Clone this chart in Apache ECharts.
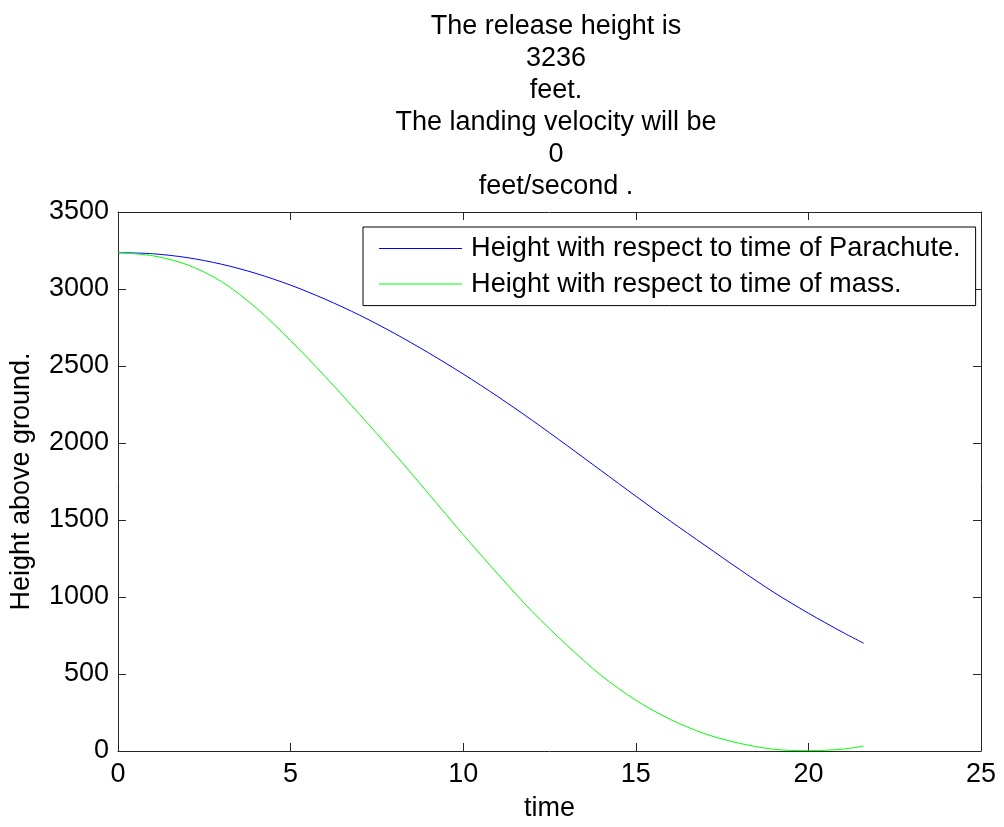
<!DOCTYPE html>
<html>
<head>
    <meta charset="utf-8" />
    <title>Parachute drop</title>
    <script src="https://cdn.jsdelivr.net/npm/echarts@6/dist/echarts.min.js"></script>
    <style>
        body { margin: 0; background: #fff; }
    </style>
</head>
<body>
    <div id="main" style="width: 1004px;height:827px;"></div>
    <script type="text/javascript">
        // time samples (seconds) and heights
        var times = [0, 1, 2, 3, 4, 5, 6, 7, 8, 9, 10, 11, 12, 13, 14, 15, 16, 17, 18, 19, 20, 21, 21.6];
        var parachute = [3236, 3229, 3204, 3161, 3101, 3025, 2934, 2830, 2713, 2585, 2448, 2302, 2147, 1985, 1820, 1655, 1493, 1336, 1180, 1030, 895, 770, 700];
        var mass = [3236, 3216, 3158, 3048, 2878, 2665, 2432, 2186, 1933, 1670, 1405, 1150, 905, 688, 490, 330, 205, 112, 50, 11, 2, 12, 32];

        var titleLines = ['The release height is', '3236', 'feet.', 'The landing velocity will be', '0', 'feet/second .'];
        var seriesNames = ['Height with respect to time of Parachute.', 'Height with respect to time of mass.'];

        var font = 'Liberation Sans, Arial, sans-serif';
        var axisColor = '#262626';

        function pairs(xs, ys) {
            return xs.map(function (x, i) { return [x, ys[i]]; });
        }

        function xAxisOf(pos, show) {
            return {
                type: 'value', position: pos, min: 0, max: 25, interval: 5,
                splitLine: { show: false },
                axisLine: { show: true, onZero: false, lineStyle: { color: axisColor, width: 1 } },
                axisTick: { show: true, inside: true, length: 8, lineStyle: { color: axisColor } },
                axisLabel: { show: show, color: '#000', fontSize: 27, fontFamily: font, margin: 10,
                    formatter: function (v) { return String(v); } }
            };
        }

        function yAxisOf(pos, show) {
            return {
                type: 'value', position: pos, min: 0, max: 3500, interval: 500,
                splitLine: { show: false },
                axisLine: { show: true, onZero: false, lineStyle: { color: axisColor, width: 1 } },
                axisTick: { show: true, inside: true, length: 8, lineStyle: { color: axisColor } },
                axisLabel: { show: show, color: '#000', fontSize: 27, fontFamily: font, margin: 9,
                    formatter: function (v) { return String(v); } }
            };
        }

        var myChart = echarts.init(document.getElementById('main'));

        var xMain = xAxisOf('bottom', true);
        xMain.name = 'time';
        xMain.nameLocation = 'middle';
        xMain.nameGap = 44;
        xMain.nameTextStyle = { color: '#000', fontSize: 27, fontFamily: font };

        var yMain = yAxisOf('left', true);
        yMain.name = 'Height above ground.';
        yMain.nameLocation = 'middle';
        yMain.nameGap = 83;
        yMain.nameTextStyle = { color: '#000', fontSize: 27, fontFamily: font };

        var option = {
            animation: false,
            backgroundColor: '#fff',
            title: {
                text: titleLines.join('\n'),
                left: 551,
                top: 6,
                textAlign: 'center',
                textStyle: { color: '#000', fontSize: 27, fontWeight: 'normal', fontFamily: font, lineHeight: 32 }
            },
            grid: { left: 117, right: 23, top: 212, bottom: 72, containLabel: false },
            legend: {
                orient: 'vertical',
                left: 363,
                top: 227,
                icon: 'rect',
                itemWidth: 83,
                itemHeight: 1,
                itemGap: 8.6,
                padding: [8, 15, 8, 16],
                borderColor: '#000',
                borderWidth: 1,
                backgroundColor: '#fff',
                textStyle: { color: '#000', fontSize: 27.2, fontFamily: font, lineHeight: 27, padding: [0, 0, 0, 4] },
                data: seriesNames
            },
            xAxis: [xMain, xAxisOf('top', false)],
            yAxis: [yMain, yAxisOf('right', false)],
            series: [
                {
                    name: seriesNames[0], type: 'line', data: pairs(times, parachute),
                    showSymbol: false, smooth: 0.3, color: '#0000ff',
                    lineStyle: { color: '#0000ff', width: 1 }
                },
                {
                    name: seriesNames[1], type: 'line', data: pairs(times, mass),
                    showSymbol: false, smooth: 0.3, color: '#00ff00',
                    lineStyle: { color: '#00ff00', width: 1 }
                }
            ]
        };

        myChart.setOption(option);
    </script>
</body>
</html>
